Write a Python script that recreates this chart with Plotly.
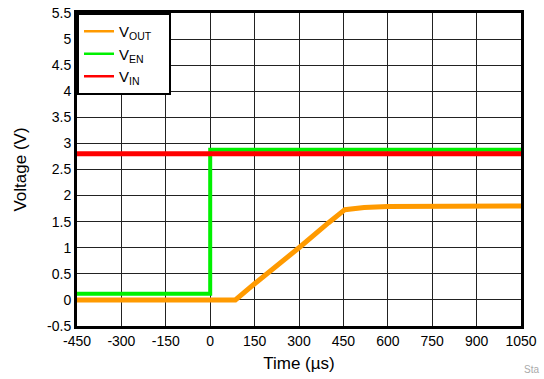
import plotly.graph_objects as go

# Data
t_out = [-450, 85, 150, 200, 300, 400, 455, 520, 600, 1050]
v_out = [0.0, 0.0, 0.31, 0.53, 1.0, 1.48, 1.73, 1.77, 1.79, 1.80]

t_en = [-450, 0, 0, 1050]
v_en = [0.12, 0.12, 2.88, 2.88]

t_in = [-450, 1050]
v_in = [2.8, 2.8]

names = ["V<sub>OUT</sub>\u00a0\u00a0\u00a0", "V<sub>EN</sub>", "V<sub>IN</sub>"]
colors = ["#FF9A00", "#00F000", "#FF0000"]

x_ticks = [-450, -300, -150, 0, 150, 300, 450, 600, 750, 900, 1050]
y_ticks = [-0.5, 0, 0.5, 1, 1.5, 2, 2.5, 3, 3.5, 4, 4.5, 5, 5.5]

fig = go.Figure()
# data traces (thick, noisy-band look)
for t, v, c, w in [(t_out, v_out, colors[0], 5), (t_en, v_en, colors[1], 4), (t_in, v_in, colors[2], 5)]:
    fig.add_trace(go.Scatter(x=t, y=v, mode="lines", showlegend=False,
                             line=dict(color=c, width=w)))
# legend entries with thin line samples
for n, c in zip(names, colors):
    fig.add_trace(go.Scatter(x=[None], y=[None], mode="lines", name=n,
                             line=dict(color=c, width=2.5)))

font = "Liberation Sans, Arial, sans-serif"
fig.update_layout(
    width=544, height=379,
    margin=dict(l=77, r=23, t=13, b=53),
    paper_bgcolor="white", plot_bgcolor="white",
    font=dict(family=font, size=14, color="black"),
    showlegend=True,
    legend=dict(x=0, y=1, xanchor="left", yanchor="top",
                bgcolor="white", bordercolor="black", borderwidth=2,
                font=dict(size=15), itemwidth=30, tracegroupgap=0),
    xaxis=dict(range=[-450, 1050], tickvals=x_ticks, ticktext=[str(v) for v in x_ticks],
               showgrid=True, gridcolor="#222", gridwidth=1, automargin=False,
               ticklabeloverflow="allow",
               showline=True, linecolor="black", linewidth=3, mirror=True,
               zeroline=False, ticks="", title=dict(text="Time (µs)", standoff=10)),
    yaxis=dict(range=[-0.5, 5.5], tickvals=y_ticks, ticktext=[f"{v:g}" for v in y_ticks],
               showgrid=True, gridcolor="#222", gridwidth=1, automargin=False,
               ticklabeloverflow="allow",
               showline=True, linecolor="black", linewidth=3, mirror=True,
               zeroline=False, ticks="", title=dict(text="Voltage (V)", standoff=17)),
    annotations=[dict(text="Sta", xref="paper", yref="paper", x=1.003, y=-0.14,
                      xanchor="left", yanchor="middle", showarrow=False,
                      font=dict(size=10, color="#AAAAAA"))],
)

fig.write_html("out.html", config={"displayModeBar": False},
               post_script="document.body.style.margin='0px';document.body.style.overflow='hidden';")
